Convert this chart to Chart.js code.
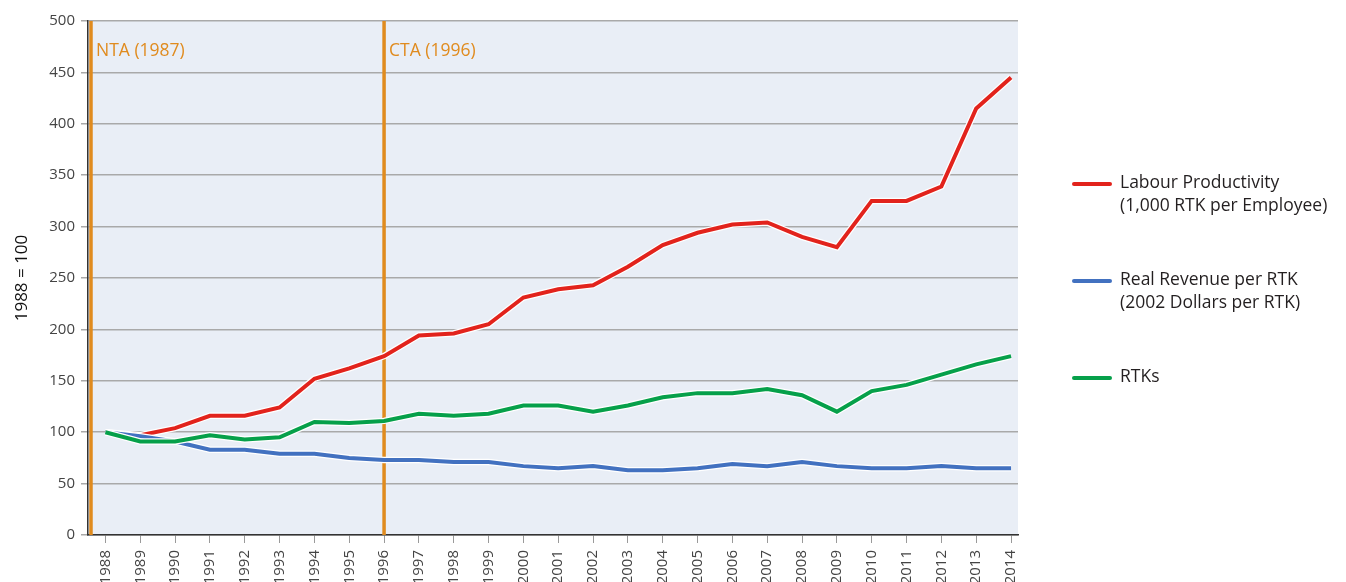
<!DOCTYPE html>
<html>
<head>
<meta charset="utf-8">
<script src="https://cdn.jsdelivr.net/npm/chart.js@4.4.1/dist/chart.umd.min.js"></script>
<style>
  html, body { margin: 0; padding: 0; background: #fff; overflow: hidden; }
  #wrap { position: relative; width: 1346px; height: 582px; }
  #legend { position: absolute; left: 1072px; top: 0; font-family: "Open Sans", sans-serif; font-size: 17.5px; color: #231f20; }
  .item { position: absolute; left: 0; width: 280px; }
  .item .sw { position: absolute; left: 0; width: 40px; height: 4px; border-radius: 2px; }
  .item .tx { position: absolute; left: 48px; line-height: 23px; white-space: nowrap; }
</style>
</head>
<body>
<div id="wrap">
  <canvas id="chart" width="1346" height="582"></canvas>
  <div id="legend"></div>
</div>
<script>
const years = [1988, 1989, 1990, 1991, 1992, 1993, 1994, 1995, 1996, 1997, 1998, 1999, 2000, 2001,
               2002, 2003, 2004, 2005, 2006, 2007, 2008, 2009, 2010, 2011, 2012, 2013, 2014];

const labourProductivity = [100, 97, 104, 116, 116, 124, 152, 162, 174, 194, 196, 205, 231, 239,
                            243, 261, 282, 294, 302, 304, 290, 280, 325, 325, 339, 415, 445];
const realRevenue = [100, 96, 91, 83, 83, 79, 79, 75, 73, 73, 71, 71, 67, 65,
                     67, 63, 63, 65, 69, 67, 71, 67, 65, 65, 67, 65, 65];
const rtks = [100, 91, 91, 97, 93, 95, 110, 109, 111, 118, 116, 118, 126, 126,
              120, 126, 134, 138, 138, 142, 136, 120, 140, 146, 156, 166, 174];

const yTicks = [0, 50, 100, 150, 200, 250, 300, 350, 400, 450, 500];

const events = [
  { label: 'NTA (1987)', year: 1987 },
  { label: 'CTA (1996)', year: 1996 }
];

const series = [
  { name: ['Labour Productivity', '(1,000 RTK per Employee)'], values: labourProductivity, color: '#e2231c', top: 182 },
  { name: ['Real Revenue per RTK', '(2002 Dollars per RTK)'], values: realRevenue, color: '#4271c0', top: 279 },
  { name: ['RTKs'], values: rtks, color: '#06a04a', top: 376 }
];

const FONT = '"Open Sans", sans-serif';
const ORANGE = '#e08b1e';

// fond du graphique
const bgPlugin = {
  id: 'bg',
  beforeDraw(chart) {
    const { ctx, chartArea: a } = chart;
    ctx.save();
    ctx.fillStyle = '#e9eef6';
    ctx.fillRect(a.left, a.top, a.right - a.left, a.bottom - a.top);
    ctx.restore();
  }
};

// lignes verticales NTA / CTA
const eventPlugin = {
  id: 'events',
  beforeDatasetsDraw(chart) {
    const { ctx, chartArea: a, scales: { x } } = chart;
    ctx.save();
    events.forEach(ev => {
      const px = Math.max(x.getPixelForValue(ev.year), a.left + 3);
      ctx.strokeStyle = ORANGE;
      ctx.lineWidth = 3.5;
      ctx.beginPath();
      ctx.moveTo(px, a.top);
      ctx.lineTo(px, a.bottom);
      ctx.stroke();
      ctx.fillStyle = ORANGE;
      ctx.font = '17.5px ' + FONT;
      ctx.textBaseline = 'alphabetic';
      ctx.fillText(ev.label, px + 5, a.top + 35);
    });
    ctx.restore();
  }
};

const datasets = [];
series.forEach((s, i) => {
  const pts = years.map((yr, j) => ({ x: yr, y: s.values[j] }));
  datasets.push({ data: pts, borderColor: '#ffffff', borderWidth: 6.5, pointRadius: 0, tension: 0, order: 20 - i * 2 });
  datasets.push({ data: pts, borderColor: s.color, borderWidth: 4, pointRadius: 0, tension: 0, order: 19 - i * 2 });
});

new Chart(document.getElementById('chart'), {
  type: 'line',
  data: { datasets: datasets },
  options: {
    responsive: false,
    animation: false,
    layout: { padding: { top: 21, right: 328, left: 0, bottom: 0 } },
    plugins: { legend: { display: false }, tooltip: { enabled: false } },
    scales: {
      x: {
        type: 'linear',
        min: 1987.5,
        max: 2014.2,
        afterFit(scale) { scale.height = 47; },
        afterBuildTicks(scale) { scale.ticks = years.map(v => ({ value: v })); },
        grid: { drawOnChartArea: false, drawTicks: true, tickLength: 8, color: '#9a9a9a', lineWidth: 1 },
        border: { display: true, color: '#333333', width: 1.5 },
        ticks: {
          autoSkip: false, minRotation: 90, maxRotation: 90, padding: 7,
          font: { family: FONT, size: 15 }, color: '#444444',
          callback: v => String(v)
        }
      },
      y: {
        min: 0,
        max: 500,
        afterFit(scale) { scale.width = 88; },
        afterBuildTicks(scale) { scale.ticks = yTicks.map(v => ({ value: v })); },
        grid: { color: '#a9a9a9', lineWidth: 1.5, tickLength: 7, tickColor: '#a9a9a9' },
        border: { display: true, color: '#333333', width: 1.5 },
        ticks: { font: { family: FONT, size: 15 }, color: '#444444', padding: 6 },
        title: {
          display: true, text: '1988 = 100', color: '#111111',
          font: { family: FONT, size: 17 }, padding: { top: 12, bottom: 0 }
        }
      }
    }
  },
  plugins: [bgPlugin, eventPlugin]
});

// légende HTML
const legend = document.getElementById('legend');
series.forEach(s => {
  const item = document.createElement('div');
  item.className = 'item';
  item.style.top = s.top + 'px';
  item.innerHTML = '<div class="sw" style="background:' + s.color + ';top:0"></div>' +
    '<div class="tx" style="top:-12px">' + s.name.join('<br>') + '</div>';
  legend.appendChild(item);
});
</script>
</body>
</html>
